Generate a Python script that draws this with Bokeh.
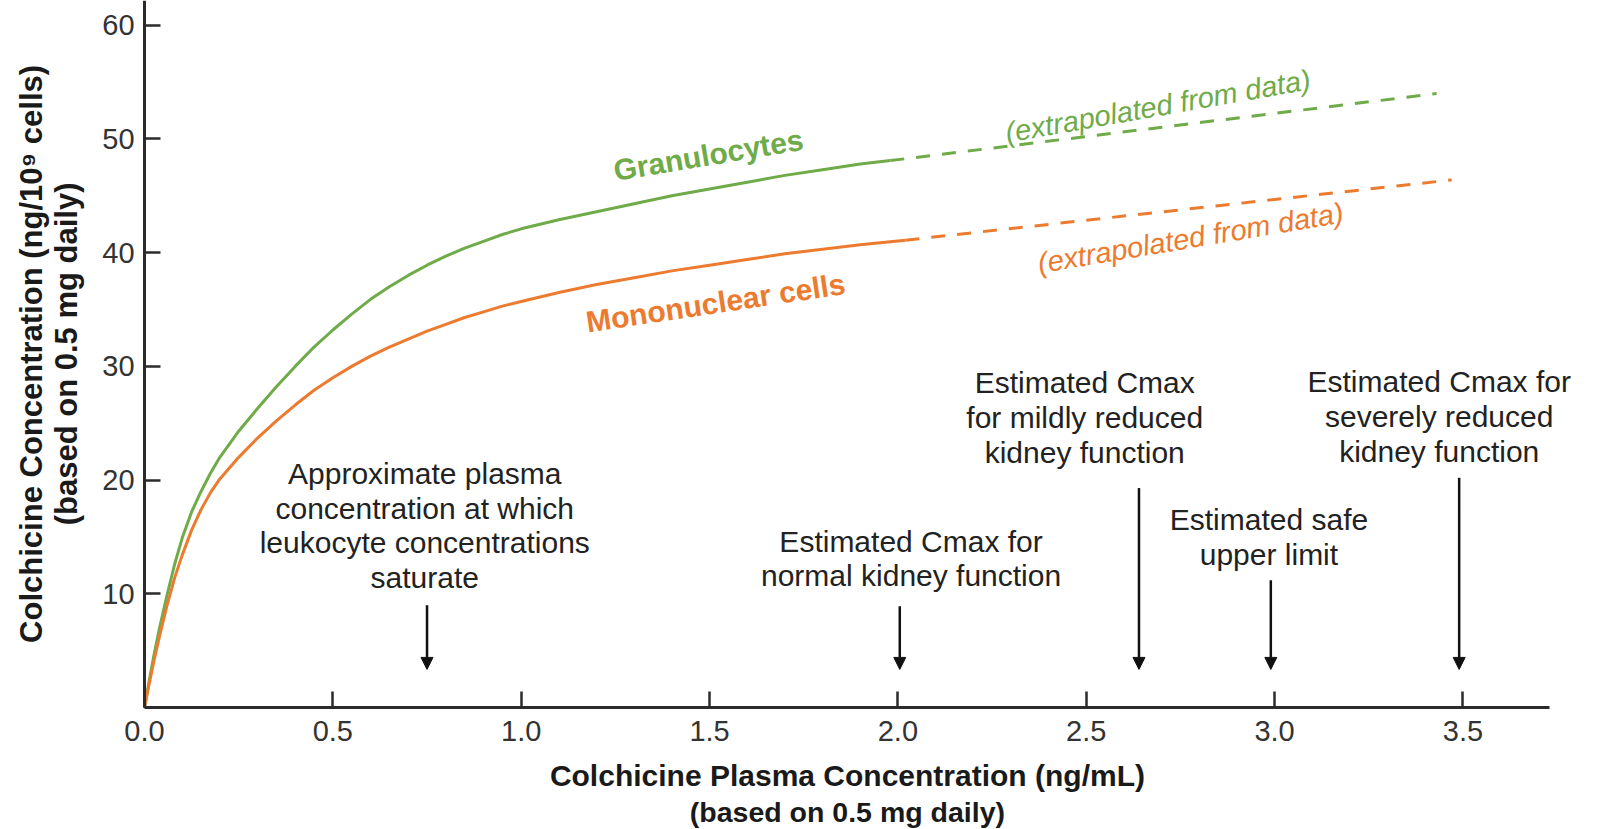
from bokeh.plotting import figure
from bokeh.models import (Range1d, FixedTicker, Arrow, NormalHead, ColumnDataSource,
                          PrintfTickFormatter)
from bokeh.core.properties import value
from bokeh.embed import file_html
from bokeh.resources import INLINE

# ---- data ----
gran_x = [0, 0.01, 0.025, 0.04, 0.06, 0.08, 0.10, 0.125, 0.15, 0.175, 0.20, 0.25, 0.30, 0.35,
          0.40, 0.45, 0.50, 0.55, 0.60, 0.65, 0.70, 0.75, 0.80, 0.85, 0.90, 0.95, 1.00,
          1.10, 1.20, 1.30, 1.40, 1.50, 1.60, 1.70, 1.80, 1.90, 1.98]
gran_y = [0, 1.9, 4.6, 7.0, 9.9, 12.6, 14.9, 17.2, 19.0, 20.6, 22.0, 24.3, 26.3, 28.2,
          30.0, 31.7, 33.2, 34.6, 35.9, 37.0, 38.0, 38.9, 39.7, 40.4, 41.0, 41.6, 42.1,
          42.9, 43.6, 44.3, 45.0, 45.6, 46.2, 46.8, 47.3, 47.8, 48.1]
mono_x = [0, 0.01, 0.025, 0.04, 0.06, 0.08, 0.10, 0.125, 0.15, 0.175, 0.20, 0.25, 0.30, 0.35,
          0.40, 0.45, 0.50, 0.55, 0.60, 0.65, 0.70, 0.75, 0.80, 0.85, 0.90, 0.95, 1.00,
          1.10, 1.20, 1.30, 1.40, 1.50, 1.60, 1.70, 1.80, 1.90, 2.02]
mono_y = [0, 1.7, 4.1, 6.3, 9.0, 11.4, 13.4, 15.6, 17.4, 18.9, 20.1, 22.0, 23.7, 25.2,
          26.6, 27.9, 29.0, 30.0, 30.9, 31.7, 32.4, 33.1, 33.7, 34.3, 34.8, 35.3, 35.7,
          36.5, 37.2, 37.8, 38.4, 38.9, 39.4, 39.9, 40.3, 40.7, 41.1]
gran_ext_x = [1.98, 3.43]
gran_ext_y = [48.1, 54.0]
mono_ext_x = [2.02, 3.47]
mono_ext_y = [41.1, 46.4]

x_ticks = [0.0, 0.5, 1.0, 1.5, 2.0, 2.5, 3.0, 3.5]
y_ticks = [10, 20, 30, 40, 50, 60]

marker_x = [0.75, 2.005, 2.64, 2.99, 3.49]
marker_labels = [
    "Approximate plasma\nconcentration at which\nleukocyte concentrations\nsaturate",
    "Estimated Cmax for\nnormal kidney function",
    "Estimated Cmax\nfor mildly reduced\nkidney function",
    "Estimated safe\nupper limit",
    "Estimated Cmax for\nseverely reduced\nkidney function",
]

x_title_1 = "Colchicine Plasma Concentration (ng/mL)"
x_title_2 = "(based on 0.5 mg daily)"
y_title = ["Colchicine Concentration (ng/10\u2079 cells)", "(based on 0.5 mg daily)"]

# ---- layout (data units; frame covers the whole canvas) ----
X_MIN, X_MAX = -0.3823, 3.8652      # 0 at 144 px, 376.7 px per unit
Y_MIN, Y_MAX = -10.73, 62.18        # 0 at 707 px, 11.37 px per unit
X_AXIS_END = 3.73

arrow_top = [9.0, 8.9, 19.3, 11.2, 20.2]
arrow_tip = [3.35] * 5
label_x = [0.744, 2.035, 2.496, 2.985, 3.437]
label_y = [16.0, 13.1, 25.5, 15.0, 25.6]

x_title_x = 1.866
x_title_y1 = -5.95
x_title_y2 = -9.15
y_title_x = [-0.300, -0.207]
y_title_y = [31.1, 31.1]

GREEN = "#6FAB48"
ORANGE = "#EC7B30"
FONT = value("Liberation Sans")

p = figure(width=1600, height=829, x_range=Range1d(X_MIN, X_MAX), y_range=Range1d(Y_MIN, Y_MAX),
           output_backend="svg", toolbar_location=None,
           min_border_left=0, min_border_right=0, min_border_top=0, min_border_bottom=0)
p.grid.visible = False
p.outline_line_color = None
p.background_fill_color = "white"

for ax in (p.xaxis[0], p.yaxis[0]):
    ax.fixed_location = 0
    ax.axis_line_width = 3
    ax.axis_line_color = "#2b2b2b"
    ax.major_tick_in = 16
    ax.major_tick_out = 0
    ax.major_tick_line_width = 2.5
    ax.major_tick_line_color = "#2b2b2b"
    ax.minor_tick_in = 0
    ax.minor_tick_out = 0
    ax.major_label_text_font = "Liberation Sans"
    ax.major_label_text_font_size = "29px"
    ax.major_label_text_color = "#333333"

p.xaxis.bounds = (0, X_AXIS_END)
p.yaxis.bounds = (0, Y_MAX)
p.xaxis.ticker = FixedTicker(ticks=x_ticks)
p.xaxis.formatter = PrintfTickFormatter(format="%.1f")
p.yaxis.ticker = FixedTicker(ticks=y_ticks)
p.xaxis.major_label_standoff = 14
p.yaxis.major_label_standoff = 10

# axis titles
p.text(x=[x_title_x], y=[x_title_y1], text=[x_title_1], text_align="center", text_baseline="middle",
       text_font=FONT, text_font_style="bold", text_font_size="30px", text_color="#1a1a1a")
p.text(x=[x_title_x], y=[x_title_y2], text=[x_title_2], text_align="center", text_baseline="middle",
       text_font=FONT, text_font_style="bold", text_font_size="28.5px", text_color="#1a1a1a")
p.text(x=y_title_x, y=y_title_y, text=y_title, angle=90, angle_units="deg",
       text_align="center", text_baseline="middle",
       text_font=FONT, text_font_style="bold", text_font_size="31px", text_color="#1a1a1a")

# curves
p.line(gran_x, gran_y, line_color=GREEN, line_width=3)
p.line(mono_x, mono_y, line_color=ORANGE, line_width=3)
p.line(gran_ext_x, gran_ext_y, line_color=GREEN, line_width=3, line_dash="14 12")
p.line(mono_ext_x, mono_ext_y, line_color=ORANGE, line_width=3, line_dash="14 12")

# curve labels
p.text(x=[1.497], y=[48.6], text=["Granulocytes"], angle=9.5, angle_units="deg",
       text_align="center", text_baseline="middle", text_font=FONT, text_font_style="bold",
       text_font_size="30px", text_color=GREEN)
p.text(x=[1.516], y=[35.6], text=["Mononuclear cells"], angle=8.5, angle_units="deg",
       text_align="center", text_baseline="middle", text_font=FONT, text_font_style="bold",
       text_font_size="30px", text_color=ORANGE)
p.text(x=[2.69], y=[52.9], text=["(extrapolated from data)"], angle=10, angle_units="deg",
       text_align="center", text_baseline="middle", text_font=FONT, text_font_style="italic",
       text_font_size="29px", text_color=GREEN)
p.text(x=[2.777], y=[41.3], text=["(extrapolated from data)"], angle=9.5, angle_units="deg",
       text_align="center", text_baseline="middle", text_font=FONT, text_font_style="italic",
       text_font_size="29px", text_color=ORANGE)

# arrows and their labels
src = ColumnDataSource(dict(x=marker_x, y0=arrow_top, y1=arrow_tip))
p.add_layout(Arrow(end=NormalHead(size=12, fill_color="#111111", line_color="#111111"),
                   x_start="x", y_start="y0", x_end="x", y_end="y1", source=src,
                   line_width=2.5, line_color="#111111"))
p.text(x=label_x, y=label_y, text=marker_labels, text_align="center", text_baseline="middle",
       text_font=FONT, text_font_size="30px", text_color="#222222", text_line_height=1.05)

open("out.html", "w").write(file_html(p, INLINE))
